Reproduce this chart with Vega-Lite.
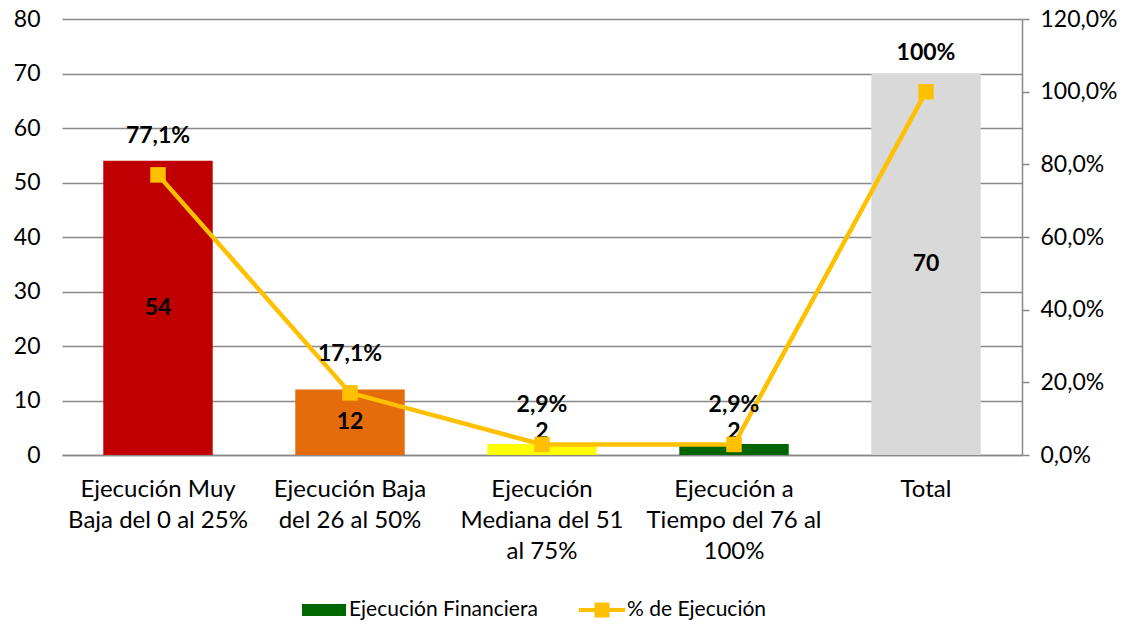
{
  "$schema": "https://vega.github.io/schema/vega-lite/v6.json",
  "autosize": "none",
  "width": 960,
  "height": 436,
  "padding": {"left": 62, "top": 19, "right": 113, "bottom": 174},
  "background": "white",
  "config": {
    "font": "Lato",
    "view": {"stroke": null},
    "axis": {"labelFont": "Lato", "labelFontSize": 23, "labelColor": "#000000", "titleFont": "Lato"},
    "legend": {"labelFont": "Lato", "labelFontSize": 21, "labelColor": "#000000"}
  },
  "data": {
    "values": [
      {"cat": "Ejecución Muy|Baja del 0 al 25%", "valor": 54, "pct": 0.771, "pctLabel": "77,1%"},
      {"cat": "Ejecución Baja|del 26 al 50%", "valor": 12, "pct": 0.171, "pctLabel": "17,1%"},
      {"cat": "Ejecución|Mediana del 51|al 75%", "valor": 2, "pct": 0.029, "pctLabel": "2,9%"},
      {"cat": "Ejecución a|Tiempo del 76 al|100%", "valor": 2, "pct": 0.029, "pctLabel": "2,9%"},
      {"cat": "Total", "valor": 70, "pct": 1.0, "pctLabel": "100%"}
    ]
  },
  "encoding": {
    "x": {
      "field": "cat",
      "type": "nominal",
      "sort": null,
      "scale": {"paddingInner": 0.43, "paddingOuter": 0.215},
      "axis": {
        "title": null,
        "labelAngle": 0,
        "labelFontSize": 24,
        "labelExpr": "split(datum.label, '|')",
        "labelLineHeight": 31,
        "labelPadding": 22,
        "labelBaseline": "top",
        "ticks": false,
        "domain": true,
        "domainColor": "#898989",
        "domainWidth": 1.5,
        "grid": false
      }
    }
  },
  "layer": [
    {
      "encoding": {
        "y": {
          "type": "quantitative",
          "scale": {"domain": [0, 80], "nice": false},
          "axis": {
            "title": null,
            "orient": "left",
            "values": [0, 10, 20, 30, 40, 50, 60, 70, 80],
            "domain": false,
            "ticks": false,
            "tickSize": 0,
            "labelPadding": 22,
            "grid": true,
            "gridColor": "#898989",
            "gridWidth": 1.4
          }
        }
      },
      "layer": [
        {
          "mark": {"type": "bar"},
          "encoding": {
            "y": {"field": "valor", "type": "quantitative"},
            "fill": {
              "field": "cat",
              "type": "nominal",
              "sort": null,
              "scale": {
                "domain": ["Ejecución Muy|Baja del 0 al 25%", "Ejecución Baja|del 26 al 50%", "Ejecución|Mediana del 51|al 75%", "Ejecución a|Tiempo del 76 al|100%", "Total"],
                "range": ["#C00000", "#E46C0A", "#FFFF00", "#006600", "#D9D9D9"]
              },
              "legend": null
            }
          }
        },
        {
          "transform": [{"calculate": "max(datum.valor / 2, 4.3)", "as": "labelPos"}],
          "mark": {"type": "text", "fontWeight": "bold", "fontSize": 23, "color": "#000000", "baseline": "middle", "align": "center"},
          "encoding": {
            "y": {"field": "labelPos", "type": "quantitative"},
            "text": {"field": "valor", "type": "quantitative"}
          }
        }
      ]
    },
    {
      "encoding": {
        "y": {
          "type": "quantitative",
          "scale": {"domain": [0, 1.2], "nice": false},
          "axis": {
            "title": null,
            "orient": "right",
            "values": [0, 0.2, 0.4, 0.6, 0.8, 1.0, 1.2],
            "labelExpr": "replace(format(datum.value, '.1%'), '.', ',')",
            "domain": true,
            "domainColor": "#898989",
            "domainWidth": 1.5,
            "ticks": true,
            "tickColor": "#898989",
            "tickWidth": 1.5,
            "tickSize": 7,
            "labelPadding": 11,
            "grid": false
          }
        }
      },
      "layer": [
        {
          "mark": {"type": "line", "strokeWidth": 4.5, "point": {"shape": "square", "size": 240, "filled": true, "color": "#FFC000"}},
          "encoding": {
            "y": {"field": "pct", "type": "quantitative"},
            "color": {
              "datum": "% de Ejecución",
              "scale": {"domain": ["Ejecución Financiera", "% de Ejecución"], "range": ["#006600", "#FFC000"]},
              "legend": {
                "title": null,
                "orient": "none",
                "direction": "horizontal",
                "legendX": 251,
                "legendY": 580,
                "symbolSize": 484,
                "columnPadding": 40,
                "labelOffset": 14,
                "labelLimit": 400,
                "symbolStrokeWidth": 0,
                "encode": {
                  "symbols": {
                    "update": {
                      "shape": {"signal": "datum.value === '% de Ejecución' ? 'M-2.1,-0.18H2.1V0.18H-2.1Z M-0.68,-0.68H0.68V0.68H-0.68Z' : 'M-2,-0.55H2V0.55H-2Z'"},
                      "fill": {"signal": "datum.value === '% de Ejecución' ? '#FFC000' : '#006600'"},
                      "stroke": {"value": "transparent"},
                      "opacity": {"value": 1}
                    }
                  }
                }
              }
            }
          }
        },
        {
          "mark": {"type": "text", "fontWeight": "bold", "fontSize": 23, "color": "#000000", "baseline": "middle", "align": "center", "dy": -39},
          "encoding": {
            "y": {"field": "pct", "type": "quantitative"},
            "text": {"field": "pctLabel", "type": "nominal"}
          }
        }
      ]
    }
  ],
  "resolve": {"scale": {"y": "independent"}}
}
